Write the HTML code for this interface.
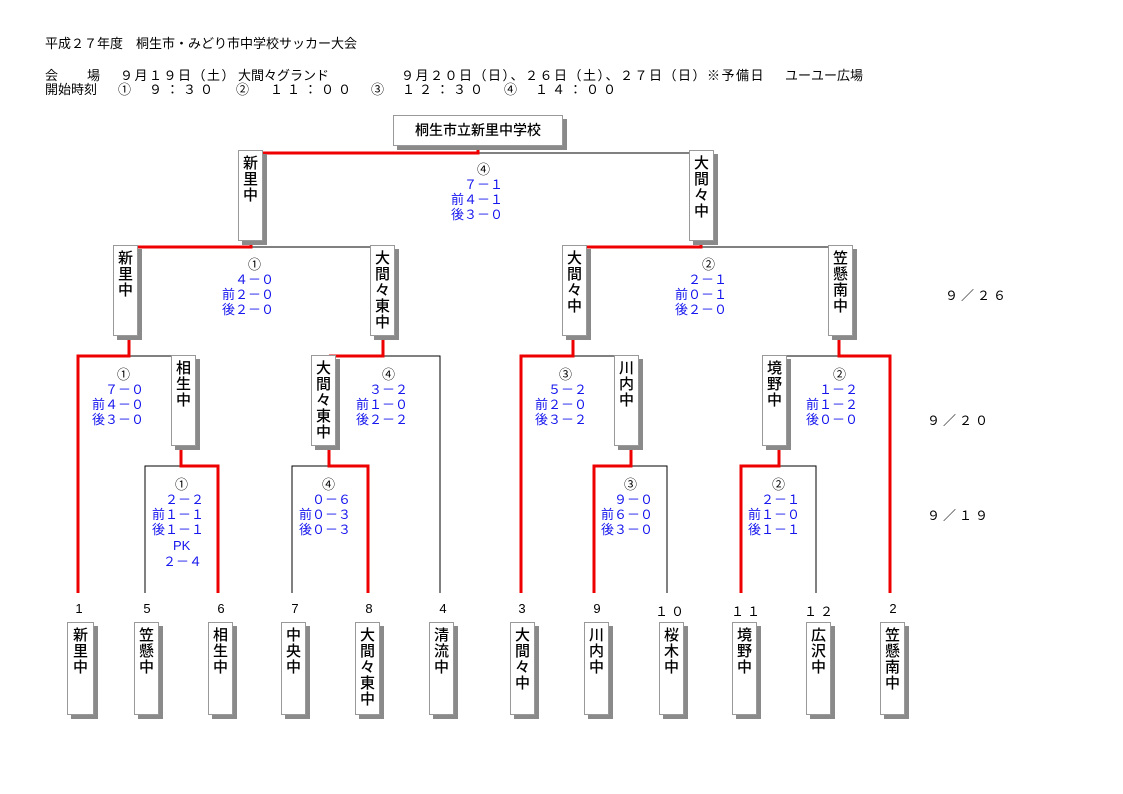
<!DOCTYPE html>
<html><head><meta charset="utf-8">
<style>
body{margin:0;background:#fff;width:1123px;height:794px;position:relative;overflow:hidden;font-family:"Liberation Sans","Noto Sans CJK JP",sans-serif;color:#000}
.t{position:absolute;font-size:13px;line-height:15px;white-space:nowrap}
.b{position:absolute;background:#fff;border:1px solid #999;box-shadow:4px 4px 0 #8a8a8a;font-size:15px;line-height:16px;text-align:center;box-sizing:border-box;padding-top:5px;font-weight:500}
.s{position:absolute;font-size:13px;line-height:15px;color:#1515ee;text-align:right;white-space:nowrap}
.n{position:absolute;font-size:13px;width:40px;text-align:center;margin-left:-20px;white-space:nowrap}
</style></head><body>
<div class="t" style="left:45px;top:36px">平成２７年度　桐生市・みどり市中学校サッカー大会</div>
<div class="t" style="left:45px;top:68px">会</div><div class="t" style="left:87px;top:68px">場</div>
<div class="t" style="left:120px;top:68px;letter-spacing:1.5px">９月１９日（土）</div>
<div class="t" style="left:238px;top:68px">大間々グランド</div>
<div class="t" style="left:401px;top:68px;letter-spacing:1.5px">９月２０日（日）、２６日（土）、２７日（日）※予備日</div>
<div class="t" style="left:785px;top:68px">ユーユー広場</div>
<div class="t" style="left:45px;top:82px">開始時刻</div>
<div class="t" style="left:118px;top:82px">①</div><div class="t" style="left:149px;top:82px;letter-spacing:4px">９：３０</div>
<div class="t" style="left:236px;top:82px">②</div><div class="t" style="left:270px;top:82px;letter-spacing:4px">１１：００</div>
<div class="t" style="left:371px;top:82px">③</div><div class="t" style="left:402px;top:82px;letter-spacing:4px">１２：３０</div>
<div class="t" style="left:504px;top:82px">④</div><div class="t" style="left:535px;top:82px;letter-spacing:4px">１４：００</div>

<svg width="1123" height="794" style="position:absolute;left:0;top:0">
<g stroke="#000" stroke-width="1" fill="none">
<path d="M145,593V466H218"/><path d="M292,593V466H368"/><path d="M594,466H667V593"/><path d="M741,466H816V593"/>
<path d="M78,356H181"/><path d="M329,356H440V593"/><path d="M521,356H631"/><path d="M779,356H890"/>
<path d="M129,247H383"/><path d="M573,247H839"/>
<path d="M251,153H701"/>
</g>
<g stroke="#ee0000" stroke-width="3" fill="none">
<path d="M181,445V466H218V593"/><path d="M329,445V466H368V593"/><path d="M631,445V466H594V593"/><path d="M779,445V466H741V593"/>
<path d="M78,593V356H129V336"/><path d="M329,356H383V336"/><path d="M521,593V356H573V336"/><path d="M890,593V356H839V336"/>
<path d="M129,247H251V240"/><path d="M573,247H701V240"/>
<path d="M251,153H478V145"/>
</g>
</svg>

<div class="b" style="left:393px;top:115px;width:170px;height:31px;padding-top:6px;font-size:14px">桐生市立新里中学校</div>
<div class="b" style="left:238px;top:150px;width:25px;height:91px">新<br>里<br>中</div>
<div class="b" style="left:689px;top:150px;width:25px;height:91px">大<br>間<br>々<br>中</div>
<div class="b" style="left:113px;top:245px;width:25px;height:91px">新<br>里<br>中</div>
<div class="b" style="left:370px;top:245px;width:25px;height:91px">大<br>間<br>々<br>東<br>中</div>
<div class="b" style="left:562px;top:245px;width:25px;height:91px">大<br>間<br>々<br>中</div>
<div class="b" style="left:828px;top:245px;width:25px;height:91px">笠<br>懸<br>南<br>中</div>
<div class="b" style="left:171px;top:355px;width:25px;height:91px">相<br>生<br>中</div>
<div class="b" style="left:311px;top:355px;width:25px;height:91px">大<br>間<br>々<br>東<br>中</div>
<div class="b" style="left:614px;top:355px;width:25px;height:91px">川<br>内<br>中</div>
<div class="b" style="left:762px;top:355px;width:25px;height:91px">境<br>野<br>中</div>

<div class="b" style="left:67px;top:622px;width:27px;height:93px">新<br>里<br>中</div>
<div class="b" style="left:134px;top:622px;width:25px;height:93px">笠<br>懸<br>中</div>
<div class="b" style="left:208px;top:622px;width:25px;height:93px">相<br>生<br>中</div>
<div class="b" style="left:281px;top:622px;width:25px;height:93px">中<br>央<br>中</div>
<div class="b" style="left:355px;top:622px;width:25px;height:93px">大<br>間<br>々<br>東<br>中</div>
<div class="b" style="left:429px;top:622px;width:25px;height:93px">清<br>流<br>中</div>
<div class="b" style="left:510px;top:622px;width:25px;height:93px">大<br>間<br>々<br>中</div>
<div class="b" style="left:584px;top:622px;width:25px;height:93px">川<br>内<br>中</div>
<div class="b" style="left:659px;top:622px;width:25px;height:93px">桜<br>木<br>中</div>
<div class="b" style="left:732px;top:622px;width:25px;height:93px">境<br>野<br>中</div>
<div class="b" style="left:806px;top:622px;width:25px;height:93px">広<br>沢<br>中</div>
<div class="b" style="left:880px;top:622px;width:25px;height:93px">笠<br>懸<br>南<br>中</div>

<div class="n" style="left:79px;top:601px">1</div><div class="n" style="left:147px;top:601px">5</div><div class="n" style="left:221px;top:601px">6</div>
<div class="n" style="left:295px;top:601px">7</div><div class="n" style="left:369px;top:601px">8</div><div class="n" style="left:443px;top:601px">4</div>
<div class="n" style="left:522px;top:601px">3</div><div class="n" style="left:597px;top:601px">9</div><div class="n" style="left:671px;top:601px;letter-spacing:3px">１０</div>
<div class="n" style="left:747px;top:601px;letter-spacing:3px">１１</div><div class="n" style="left:820px;top:601px;letter-spacing:3px">１２</div><div class="n" style="left:893px;top:601px">2</div>

<div class="t" style="left:477px;top:162px">④</div>
<div class="s" style="right:620px;top:177px">７－１<br>前４－１<br>後３－０</div>
<div class="t" style="left:248px;top:257px">①</div>
<div class="s" style="right:849px;top:272px">４－０<br>前２－０<br>後２－０</div>
<div class="t" style="left:702px;top:257px">②</div>
<div class="s" style="right:396px;top:272px">２－１<br>前０－１<br>後２－０</div>

<div class="t" style="left:117px;top:367px">①</div>
<div class="s" style="right:979px;top:382px">７－０<br>前４－０<br>後３－０</div>
<div class="t" style="left:382px;top:367px">④</div>
<div class="s" style="right:715px;top:382px">３－２<br>前１－０<br>後２－２</div>
<div class="t" style="left:559px;top:367px">③</div>
<div class="s" style="right:536px;top:382px">５－２<br>前２－０<br>後３－２</div>
<div class="t" style="left:833px;top:367px">②</div>
<div class="s" style="right:265px;top:382px">１－２<br>前１－２<br>後０－０</div>

<div class="t" style="left:175px;top:477px">①</div>
<div class="s" style="right:919px;top:492px">２－２<br>前１－１<br>後１－１</div>
<div class="t" style="left:173px;top:538px;color:#1515ee">PK</div>
<div class="t" style="left:163px;top:554px;color:#1515ee">２－４</div>
<div class="t" style="left:322px;top:477px">④</div>
<div class="s" style="right:772px;top:492px">０－６<br>前０－３<br>後０－３</div>
<div class="t" style="left:624px;top:477px">③</div>
<div class="s" style="right:470px;top:492px">９－０<br>前６－０<br>後３－０</div>
<div class="t" style="left:772px;top:477px">②</div>
<div class="s" style="right:323px;top:492px">２－１<br>前１－０<br>後１－１</div>

<div class="t" style="left:945px;top:288px;letter-spacing:3px">９／２６</div>
<div class="t" style="left:927px;top:413px;letter-spacing:3px">９／２０</div>
<div class="t" style="left:927px;top:508px;letter-spacing:3px">９／１９</div>
</body></html>
